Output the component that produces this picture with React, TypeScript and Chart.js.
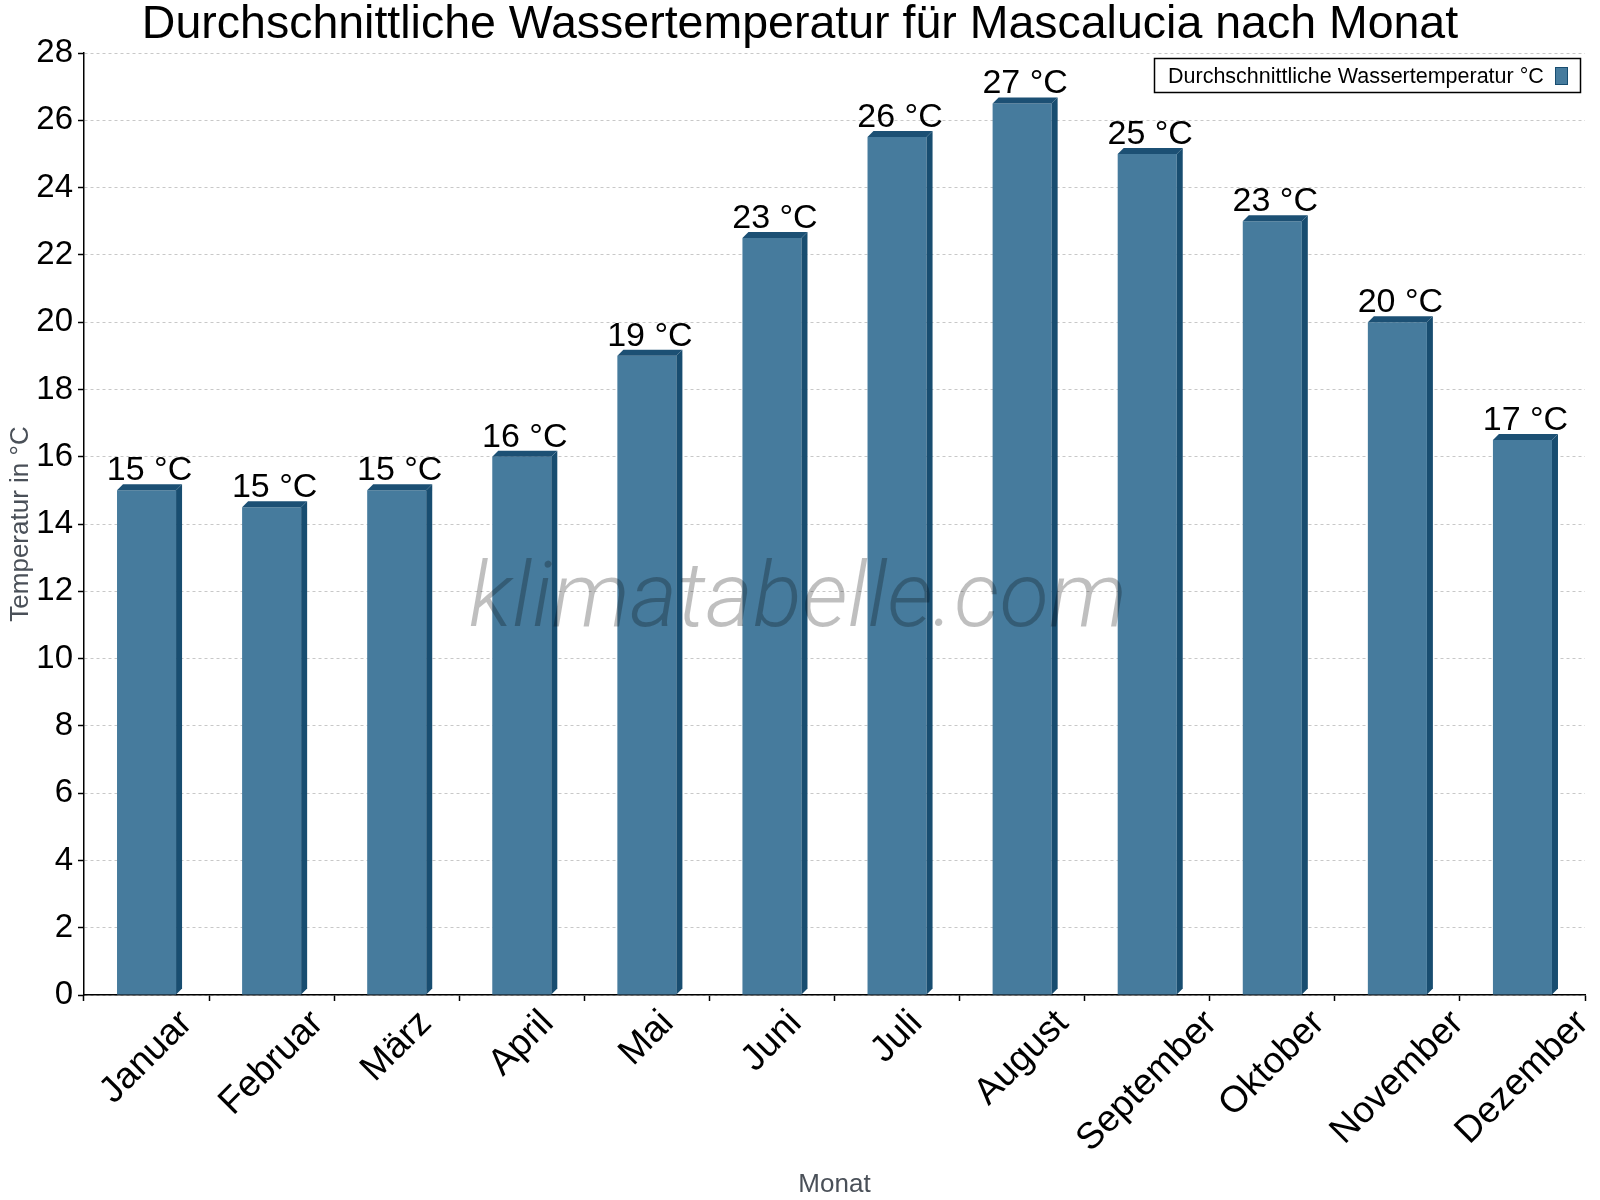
import React, { useEffect, useRef } from "react";
import { Chart, registerables } from "chart.js";

Chart.register(...registerables);

const months = ["Januar", "Februar", "März", "April", "Mai", "Juni", "Juli", "August", "September", "Oktober", "November", "Dezember"];
const waterTemps = [15, 14.5, 15, 16, 19, 22.5, 25.5, 26.5, 25, 23, 20, 16.5];
const valueLabels = ["15 °C", "15 °C", "15 °C", "16 °C", "19 °C", "23 °C", "26 °C", "27 °C", "25 °C", "23 °C", "20 °C", "17 °C"];
const seriesName = "Durchschnittliche Wassertemperatur °C";
const chartTitle = "Durchschnittliche Wassertemperatur für Mascalucia nach Monat";
const xTitle = "Monat";
const yTitle = "Temperatur in °C";
const watermarkText = "klimatabelle.com";
const yMin = 0;
const yMax = 28;
const yStep = 2;

const FONT = '"Liberation Sans", Arial, sans-serif';
const FRONT = "#467b9d";
const SIDE = "#184d70";
const TOP = "#1c5074";
const DEPTH = 6;
const X_LABEL_SIZE = 37;

const decorPlugin = {
  id: "decor",
  afterDatasetsDraw(chart: any) {
    const ctx = chart.ctx;
    const meta = chart.getDatasetMeta(0);
    meta.data.forEach((bar: any, i: number) => {
      const { x, y, base, width } = bar.getProps(["x", "y", "base", "width"], true);
      const x1 = x - width / 2;
      const x2 = x + width / 2;
      ctx.save();
      ctx.fillStyle = SIDE;
      ctx.beginPath();
      ctx.moveTo(x2, y);
      ctx.lineTo(x2 + DEPTH, y - DEPTH);
      ctx.lineTo(x2 + DEPTH, base - DEPTH);
      ctx.lineTo(x2, base);
      ctx.closePath();
      ctx.fill();
      ctx.fillStyle = TOP;
      ctx.beginPath();
      ctx.moveTo(x1, y);
      ctx.lineTo(x1 + DEPTH, y - DEPTH);
      ctx.lineTo(x2 + DEPTH, y - DEPTH);
      ctx.lineTo(x2, y);
      ctx.closePath();
      ctx.fill();
      ctx.fillStyle = "#000";
      ctx.font = `34px ${FONT}`;
      ctx.textAlign = "center";
      ctx.textBaseline = "alphabetic";
      ctx.fillText(valueLabels[i], x + DEPTH / 2, y - 10);
      ctx.restore();
    });
  },
  afterDraw(chart: any) {
    const ctx = chart.ctx;
    ctx.save();
    // rotated category labels, bounding box centred on each category
    const xs = chart.scales.x;
    ctx.fillStyle = "#000";
    ctx.font = `${X_LABEL_SIZE}px ${FONT}`;
    ctx.textAlign = "center";
    ctx.textBaseline = "middle";
    const topY = xs.top + 12;
    const h = X_LABEL_SIZE * 0.8;
    months.forEach((m, i) => {
      const cx = xs.getPixelForValue(i);
      const w = ctx.measureText(m).width;
      const half = ((w + h) * Math.SQRT1_2) / 2;
      ctx.save();
      ctx.translate(cx, topY + half);
      ctx.rotate(-Math.PI / 4);
      ctx.fillText(m, 0, 0);
      ctx.restore();
    });
    // title
    ctx.fillStyle = "#000";
    ctx.font = `46.5px ${FONT}`;
    ctx.textAlign = "center";
    ctx.textBaseline = "alphabetic";
    ctx.fillText(chartTitle, 800, 37.5);
    // legend
    const lx = 1154.5, ly = 58.5, lw = 426, lh = 34;
    ctx.fillStyle = "#fff";
    ctx.fillRect(lx, ly, lw, lh);
    ctx.strokeStyle = "#000";
    ctx.lineWidth = 1.5;
    ctx.strokeRect(lx, ly, lw, lh);
    ctx.fillStyle = "#000";
    ctx.font = `21.5px ${FONT}`;
    ctx.textAlign = "left";
    ctx.fillText(seriesName, 1168, 83);
    ctx.fillStyle = FRONT;
    ctx.fillRect(1555.5, 67.5, 12, 17);
    ctx.strokeStyle = SIDE;
    ctx.lineWidth = 1;
    ctx.strokeRect(1555.5, 67.5, 12, 17);
    // watermark
    ctx.fillStyle = "rgba(0,0,0,0.25)";
    ctx.font = `italic 300 91px "Roboto Light", Roboto, ${FONT}`;
    ctx.textAlign = "center";
    ctx.fillText(watermarkText, 798, 626);
    ctx.restore();
  },
};

export default function App() {
  const ref = useRef<HTMLCanvasElement | null>(null);
  useEffect(() => {
    document.body.style.margin = "0";
    const canvas = ref.current;
    if (!canvas) return;
    const chart = new Chart(canvas, {
      type: "bar",
      data: {
        labels: months,
        datasets: [
          {
            label: seriesName,
            data: waterTemps,
            backgroundColor: FRONT,
            borderWidth: 0,
            barPercentage: 0.472,
            categoryPercentage: 1,
          },
        ],
      },
      plugins: [decorPlugin],
      options: {
        responsive: false,
        animation: false,
        devicePixelRatio: 1,
        layout: { padding: { top: 53, right: 15, left: 0, bottom: 0 } },
        plugins: {
          legend: { display: false },
          title: { display: false },
          tooltip: { enabled: false },
        },
        scales: {
          x: {
            afterFit(scale: any) {
              scale.height = 205;
            },
            grid: {
              drawOnChartArea: false,
              drawTicks: true,
              tickLength: 6,
              tickColor: "#000",
              tickWidth: 1.5,
              offset: true,
            },
            border: { color: "#000", width: 1.5 },
            ticks: {
              display: false,
              autoSkip: false,
            },
            title: {
              display: true,
              text: xTitle,
              color: "#4a5058",
              font: { family: FONT, size: 26 },
              padding: { top: 0, bottom: 0 },
            },
          },
          y: {
            min: yMin,
            max: yMax,
            afterFit(scale: any) {
              scale.width = 84;
            },
            grid: {
              color: "#c8c8c8",
              lineWidth: 1,
              tickColor: "#000",
              tickLength: 6,
              tickWidth: 1.5,
              tickBorderDash: [],
            },
            border: { color: "#000", width: 1.5, dash: [3, 3] },
            ticks: {
              stepSize: yStep,
              color: "#000",
              font: { family: FONT, size: 33 },
              padding: 5,
            },
            title: {
              display: true,
              text: yTitle,
              color: "#4a5058",
              font: { family: FONT, size: 26 },
              padding: { top: 5, bottom: 0 },
            },
          },
        },
      } as any,
    });
    return () => chart.destroy();
  }, []);
  return (
    <div style={{ width: 1600, height: 1200, background: "#fff" }}>
      <canvas ref={ref} width={1600} height={1200} style={{ display: "block" }} />
    </div>
  );
}
